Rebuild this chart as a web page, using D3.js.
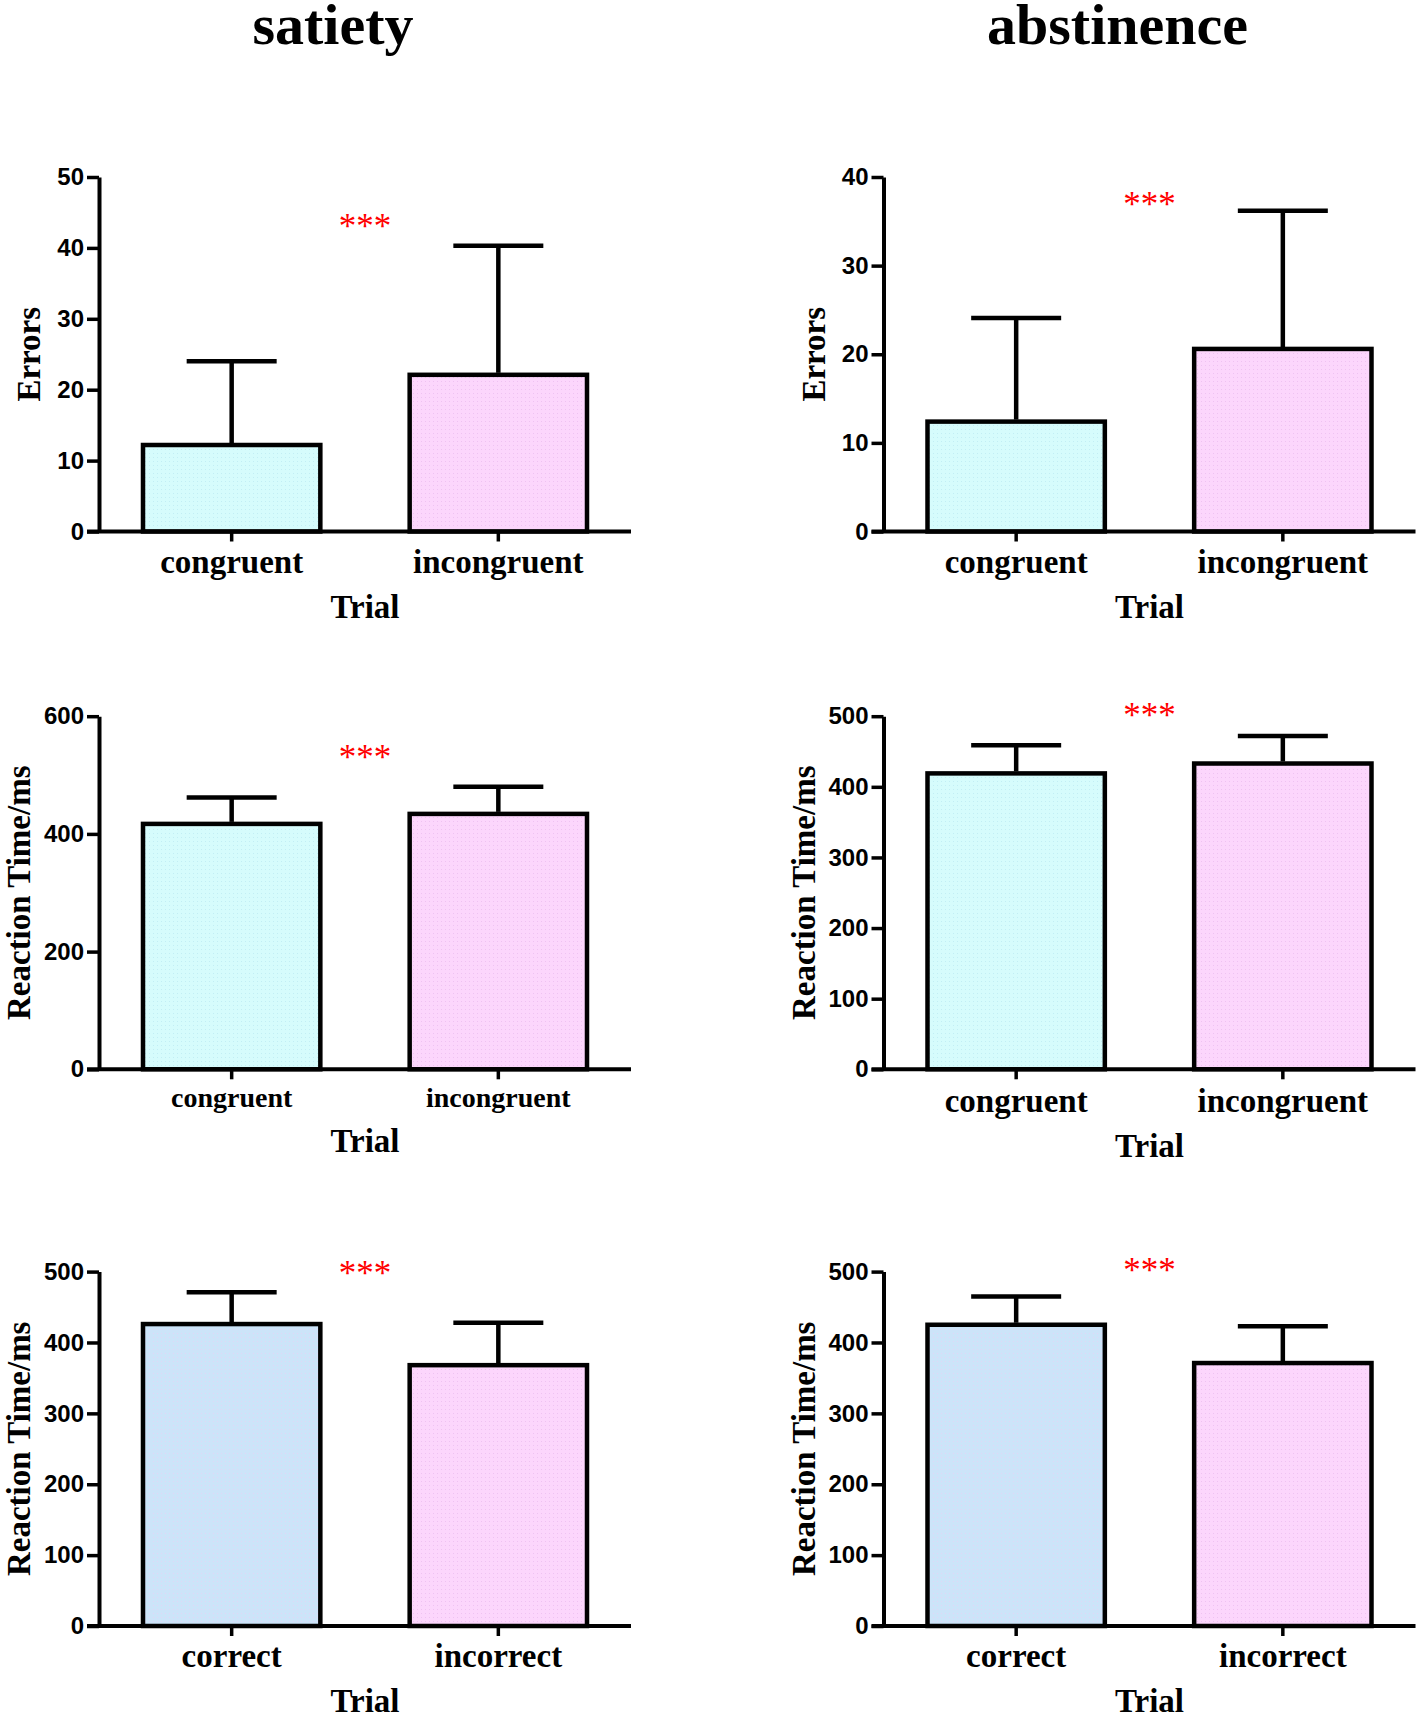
<!DOCTYPE html>
<html>
<head>
<meta charset="utf-8">
<script src="https://cdn.jsdelivr.net/npm/d3@7"></script>
<style>
  body { margin: 0; background: #fff; }
  svg { display: block; }
</style>
</head>
<body>
<svg id="chart" width="1417" height="1715"></svg>
<script>
// column titles and category names
var columnTitles = ["satiety", "abstinence"];
var errorTrials = ["congruent", "incongruent"];
var responseTrials = ["correct", "incorrect"];

// means and SDs
var satietyErrMean = [12.2, 22.1];
var satietyErrSD = [11.8, 18.2];
var abstErrMean = [12.4, 20.6];
var abstErrSD = [11.7, 15.6];
var satietyRtMean = [417, 434];
var satietyRtSD = [45, 46];
var abstRtMean = [419, 433];
var abstRtSD = [40, 39];
var satietyRespMean = [426, 368];
var satietyRespSD = [45, 60];
var abstRespMean = [425, 371];
var abstRespSD = [40, 52];

// axis ticks
var errTicksSatiety = [0, 10, 20, 30, 40, 50];
var errTicksAbst = [0, 10, 20, 30, 40];
var rtTicks600 = [0, 200, 400, 600];
var rtTicks500 = [0, 100, 200, 300, 400, 500];

// where the "***" sits, in data units
var starLevel = [43.7, 37.4, 537, 508, 503, 508];

var panels = [
  {row: 0, col: 0, cats: errorTrials, mean: satietyErrMean, sd: satietyErrSD, max: 50, ticks: errTicksSatiety, ylab: "Errors", fills: ["cyan", "pink"], catSize: 33, catY: 41.5},
  {row: 0, col: 1, cats: errorTrials, mean: abstErrMean, sd: abstErrSD, max: 40, ticks: errTicksAbst, ylab: "Errors", fills: ["cyan", "pink"], catSize: 33, catY: 41.5},
  {row: 1, col: 0, cats: errorTrials, mean: satietyRtMean, sd: satietyRtSD, max: 600, ticks: rtTicks600, ylab: "Reaction Time/ms", fills: ["cyan", "pink"], catSize: 28, catY: 37.5},
  {row: 1, col: 1, cats: errorTrials, mean: abstRtMean, sd: abstRtSD, max: 500, ticks: rtTicks500, ylab: "Reaction Time/ms", fills: ["cyan", "pink"], catSize: 33, catY: 42.5},
  {row: 2, col: 0, cats: responseTrials, mean: satietyRespMean, sd: satietyRespSD, max: 500, ticks: rtTicks500, ylab: "Reaction Time/ms", fills: ["blue", "pink"], catSize: 33, catY: 41},
  {row: 2, col: 1, cats: responseTrials, mean: abstRespMean, sd: abstRespSD, max: 500, ticks: rtTicks500, ylab: "Reaction Time/ms", fills: ["blue", "pink"], catSize: 33, catY: 41}
];

var colX = [99, 883.5];
var plotW = 532;
var rowY = [[177, 531.5], [716.2, 1069.3], [1271.6, 1626]];
var serif = "'Liberation Serif', 'Times New Roman', serif";
var sans = "'Liberation Sans', Arial, sans-serif";

var svg = d3.select("#chart");
svg.append("rect").attr("width", 1417).attr("height", 1715).attr("fill", "#fff");

/* dotted fills like the original bitmap */
var defs = svg.append("defs");
var patternColors = {
  cyan: ["#d6fcfc", "#c2eef4"],
  pink: ["#fcd6fc", "#efc2f2"],
  blue: ["#cce4f9", "#e0d6f6"]
};
Object.keys(patternColors).forEach(function (k) {
  var p = defs.append("pattern")
    .attr("id", "fill-" + k)
    .attr("patternUnits", "userSpaceOnUse")
    .attr("width", 4)
    .attr("height", 4);
  p.append("rect").attr("width", 4).attr("height", 4).attr("fill", patternColors[k][0]);
  p.append("rect").attr("x", 1).attr("y", 1).attr("width", 1).attr("height", 1)
    .attr("fill", patternColors[k][1]);
});

// column titles
columnTitles.forEach(function (t, i) {
  svg.append("text")
    .attr("x", colX[i] + 234)
    .attr("y", 44)
    .attr("text-anchor", "middle")
    .style("font-family", serif)
    .style("font-weight", "bold")
    .style("font-size", "58px")
    .text(t);
});

function drawPanel(p, idx) {
  var x0 = colX[p.col];
  var top = rowY[p.row][0];
  var bottom = rowY[p.row][1];
  var g = svg.append("g");

  var x = d3.scaleBand()
    .domain(p.cats)
    .range([x0, x0 + plotW])
    .paddingInner(0.335)
    .paddingOuter(0.165);
  var y = d3.scaleLinear().domain([0, p.max]).range([bottom, top]);

  // bars
  g.selectAll("rect.bar")
    .data(p.cats)
    .enter().append("rect")
      .attr("class", "bar")
      .attr("x", function (d) { return x(d); })
      .attr("y", function (d, i) { return y(p.mean[i]); })
      .attr("width", x.bandwidth())
      .attr("height", function (d, i) { return bottom - y(p.mean[i]); })
      .attr("fill", function (d, i) { return "url(#fill-" + p.fills[i] + ")"; })
      .attr("stroke", "#000")
      .attr("stroke-width", 4.5);

  // error bars (upper only)
  var cx = function (d) { return x(d) + x.bandwidth() / 2; };
  g.selectAll("line.err")
    .data(p.cats)
    .enter().append("line")
      .attr("class", "err")
      .attr("x1", cx).attr("x2", cx)
      .attr("y1", function (d, i) { return y(p.mean[i]) - 2; })
      .attr("y2", function (d, i) { return y(p.mean[i] + p.sd[i]); })
      .attr("stroke", "#000").attr("stroke-width", 4.5);
  g.selectAll("line.cap")
    .data(p.cats)
    .enter().append("line")
      .attr("class", "cap")
      .attr("x1", function (d) { return cx(d) - 45; })
      .attr("x2", function (d) { return cx(d) + 45; })
      .attr("y1", function (d, i) { return y(p.mean[i] + p.sd[i]); })
      .attr("y2", function (d, i) { return y(p.mean[i] + p.sd[i]); })
      .attr("stroke", "#000").attr("stroke-width", 4.5);

  // y axis
  var yAxis = d3.axisLeft(y).tickValues(p.ticks).tickSize(12).tickSizeOuter(0).tickPadding(3);
  var ya = g.append("g")
    .attr("transform", "translate(" + x0 + ",0)")
    .call(yAxis);
  ya.select(".domain").attr("stroke-width", 4);
  ya.selectAll(".tick line").attr("stroke-width", 3.5);
  ya.selectAll(".tick text")
    .style("font-family", sans)
    .style("font-weight", "bold")
    .style("font-size", "24px")
    .attr("fill", "#000");

  // x axis
  var xAxis = d3.axisBottom(x).tickSize(10).tickSizeOuter(0);
  var xa = g.append("g")
    .attr("transform", "translate(0," + bottom + ")")
    .call(xAxis);
  xa.select(".domain").remove();
  xa.append("line")
    .attr("x1", x0 - 12).attr("x2", x0 + plotW)
    .attr("y1", 0).attr("y2", 0)
    .attr("stroke", "#000").attr("stroke-width", 4);
  xa.selectAll(".tick line").attr("stroke-width", 3.5);
  xa.selectAll(".tick text")
    .attr("dy", null)
    .attr("y", p.catY)
    .style("font-family", serif)
    .style("font-weight", "bold")
    .style("font-size", p.catSize + "px")
    .attr("fill", "#000");

  // axis titles
  g.append("text")
    .attr("x", x0 + plotW / 2)
    .attr("y", bottom + p.catY + 45)
    .attr("text-anchor", "middle")
    .style("font-family", serif)
    .style("font-weight", "bold")
    .style("font-size", "33px")
    .text("Trial");
  var labX = p.ylab === "Errors" ? x0 - 59 : x0 - 69;
  g.append("text")
    .attr("transform", "translate(" + labX + "," + ((top + bottom) / 2) + ") rotate(-90)")
    .attr("text-anchor", "middle")
    .style("font-family", serif)
    .style("font-weight", "bold")
    .style("font-size", "33px")
    .text(p.ylab);

  // significance mark
  var mid = (cx(p.cats[0]) + cx(p.cats[1])) / 2;
  g.append("text")
    .attr("x", mid)
    .attr("y", y(starLevel[idx]) + 16)
    .attr("text-anchor", "middle")
    .attr("fill", "#ff0000")
    .style("font-family", serif)
    .style("font-size", "35px")
    .text("***");
}

panels.forEach(drawPanel);
</script>
</body>
</html>
